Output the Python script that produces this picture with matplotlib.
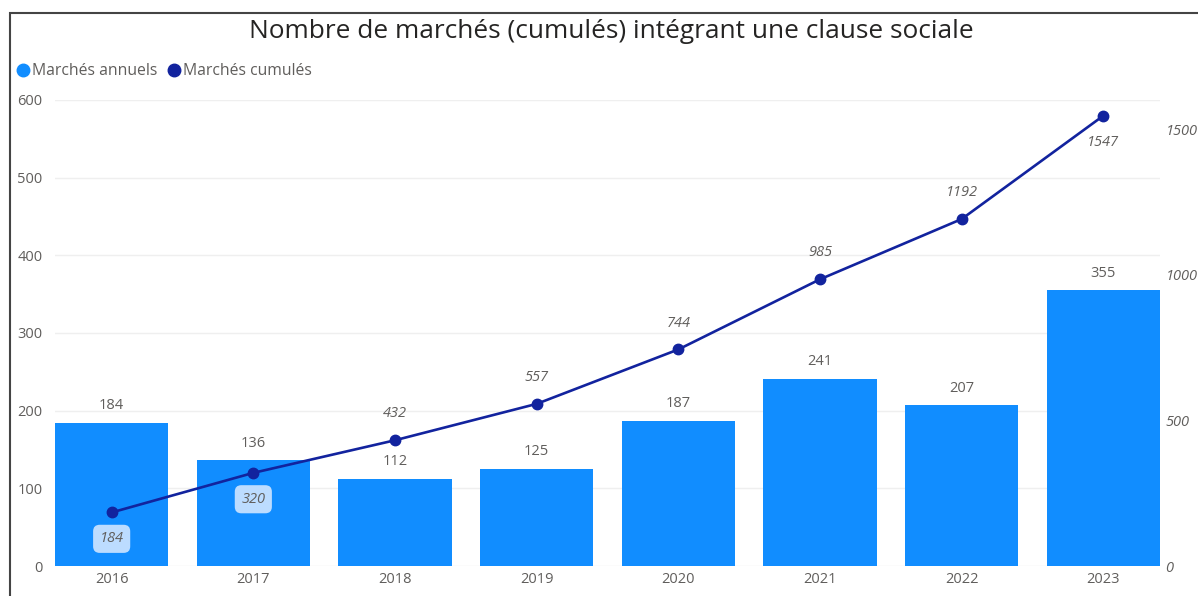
import matplotlib
matplotlib.use("Agg")
import matplotlib.pyplot as plt
from matplotlib.patches import Rectangle
from matplotlib.lines import Line2D

years = ["2016", "2017", "2018", "2019", "2020", "2021", "2022", "2023"]
annuels = [184, 136, 112, 125, 187, 241, 207, 355]
cumules = [184, 320, 432, 557, 744, 985, 1192, 1547]
left_ticks = [0, 100, 200, 300, 400, 500, 600]
right_ticks = [0, 500, 1000, 1500]
# label placement for cumulative series: +1 above, -1 below
cum_label_side = [-1, -1, 1, 1, 1, 1, 1, -1]
cum_label_bg = ["blue", "blue", None, None, None, None, None, "white"]

BAR = "#118DFF"
LINE = "#12239E"
GRAY = "#605E5C"
FONT = ["Open Sans", "DejaVu Sans"]
plt.rcParams["font.family"] = FONT

W, H = 1198, 596
fig = plt.figure(figsize=(W / 100, H / 100), dpi=100)
fig.patch.set_facecolor("white")

ax_l, ax_r, ax_t, ax_b = 55, 1160, 100, 566
ax = fig.add_axes([ax_l / W, 1 - ax_b / H, (ax_r - ax_l) / W, (ax_b - ax_t) / H])
x = list(range(len(years)))
ax.bar(x, annuels, width=0.8, color=BAR, zorder=2)
ax.set_xlim(-0.4, len(years) - 0.6)
ax.set_ylim(0, 600)
ax.set_yticks(left_ticks)
ax.set_xticks(x)
ax.set_xticklabels(years)
ax.tick_params(axis="both", length=0, colors=GRAY, labelsize=10.5)
ax.tick_params(axis="y", pad=9)
ax.tick_params(axis="x", pad=4)
for s in ax.spines.values():
    s.set_visible(False)
ax.grid(axis="y", color="#EFEFEF", lw=1, zorder=0)
ax.set_axisbelow(True)

for xi, v in zip(x, annuels):
    ax.annotate(str(v), (xi, v), xytext=(0, 7), textcoords="offset points",
                ha="center", va="bottom", fontsize=10.5, color=GRAY, zorder=3)

ax2 = ax.twinx()
ax2.set_ylim(0, 1601)
ax2.set_yticks(right_ticks)
ax2.tick_params(axis="y", length=0, colors=GRAY, labelsize=10.5, pad=4)
for lab in ax2.get_yticklabels():
    lab.set_fontstyle("italic")
for s in ax2.spines.values():
    s.set_visible(False)
ax2.plot(x, cumules, color=LINE, lw=1.9, marker="o", ms=7.5, zorder=4)

for xi, v, side, bg in zip(x, cumules, cum_label_side, cum_label_bg):
    bbox = None
    if bg == "blue":
        bbox = dict(boxstyle="round,pad=0.45,rounding_size=0.45", fc="#BCDCFF", ec="none")
    elif bg == "white":
        bbox = dict(boxstyle="round,pad=0.2", fc="white", ec="none", alpha=0.75)
    ax2.annotate(str(v), (xi, v), xytext=(0, 19 * side), textcoords="offset points",
                 ha="center", va="center", fontsize=10.5, color=GRAY,
                 fontstyle="italic", bbox=bbox, zorder=5)

fig.text(611 / W, 1 - 32 / H, "Nombre de marchés (cumulés) intégrant une clause sociale",
         ha="center", va="center", fontsize=18.9, color="#252423")

# legend
handles = [Line2D([], [], ls="none", marker="o", ms=9, color=BAR),
           Line2D([], [], ls="none", marker="o", ms=9, color=LINE)]
fig.legend(handles, ["Marchés annuels", "Marchés cumulés"], loc="center left",
           bbox_to_anchor=(14 / W, 1 - 71 / H), ncol=2, frameon=False,
           handletextpad=0.05, columnspacing=0.5, handlelength=1.1,
           labelcolor=GRAY, fontsize=11.3, borderaxespad=0, borderpad=0)

# outer frame
fig.add_artist(Rectangle((10 / W, -0.1), 1.2, 1 - 13 / H + 0.1, transform=fig.transFigure,
                         fill=False, ec="#444444", lw=1.5))

fig.savefig("out.png", dpi=100)
